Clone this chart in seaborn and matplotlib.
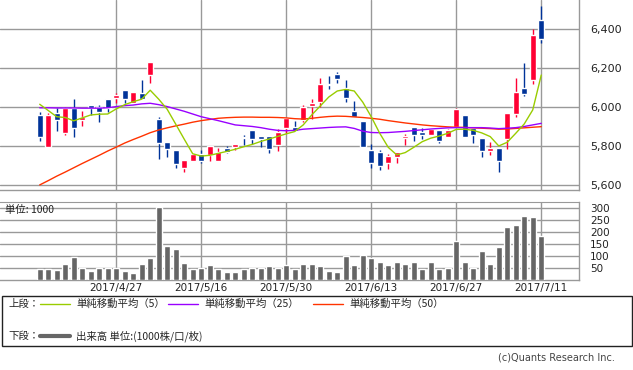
import numpy as np
import pandas as pd
import matplotlib
matplotlib.use('Agg')
import matplotlib.pyplot as plt
from matplotlib.patches import Rectangle
from matplotlib.lines import Line2D
import seaborn as sns

# ---- data (60 trading days, 2017/4/14 - 2017/7/11)
open_ = [5957, 5796, 5968, 5868, 5996, 5933, 6009, 5998, 6041, 6048,
         6087, 6019, 6070, 6164, 5938, 5819, 5779, 5689, 5723, 5759,
         5754, 5725, 5788, 5796, 5845, 5882, 5851, 5851, 5805, 5894,
         5899, 5933, 6005, 6027, 6116, 6169, 6096, 5979, 5928, 5779,
         5769, 5714, 5745, 5840, 5896, 5872, 5856, 5882, 5848, 5899,
         5959, 5891, 5840, 5776, 5790, 5837, 5966, 6096, 6137, 6446]
high = [5976, 5968, 5993, 6002, 6043, 5979, 6009, 6010, 6041, 6072,
        6087, 6077, 6138, 6231, 5950, 5819, 5779, 5728, 5759, 5779,
        5800, 5791, 5802, 5810, 5856, 5882, 5851, 5851, 5886, 5942,
        5928, 6009, 6041, 6150, 6159, 6181, 6138, 6032, 5928, 5810,
        5779, 5759, 5768, 5860, 5896, 5891, 5886, 5882, 5886, 5996,
        5959, 5896, 5840, 5819, 5790, 5968, 6150, 6224, 6398, 6518]
low = [5827, 5796, 5877, 5856, 5848, 5903, 5959, 5925, 5976, 6019,
       6019, 6019, 6039, 6125, 5735, 5745, 5689, 5667, 5723, 5711,
       5725, 5725, 5766, 5779, 5805, 5810, 5796, 5763, 5776, 5868,
       5878, 5925, 5940, 5998, 6091, 6125, 6027, 5950, 5796, 5686,
       5677, 5680, 5711, 5805, 5826, 5834, 5856, 5817, 5848, 5899,
       5848, 5817, 5745, 5754, 5668, 5786, 5947, 6058, 6116, 6327]
close = [5848, 5959, 5933, 5996, 5894, 5950, 5993, 5976, 5993, 6062,
         6039, 6077, 6039, 6231, 5817, 5785, 5708, 5728, 5759, 5723,
         5800, 5769, 5771, 5810, 5840, 5836, 5836, 5786, 5872, 5942,
         5878, 6000, 6022, 6118, 6111, 6145, 6048, 5950, 5796, 5714,
         5699, 5750, 5768, 5851, 5856, 5856, 5886, 5827, 5882, 5991,
         5848, 5856, 5776, 5791, 5723, 5968, 6077, 6068, 6369, 6347]

ma5 = [6014, 5982, 5950, 5946, 5929, 5944, 5959, 5963, 5964, 5990,
       6012, 6027, 6040, 6086, 6040, 5988, 5912, 5835, 5760, 5748,
       5752, 5762, 5772, 5783, 5796, 5808, 5823, 5836, 5849, 5862,
       5874, 5908, 5959, 6005, 6051, 6082, 6090, 6082, 6025, 5950,
       5865, 5793, 5754, 5766, 5793, 5822, 5840, 5851, 5865, 5885,
       5886, 5880, 5867, 5848, 5800, 5819, 5865, 5913, 5985, 6164]
ma25 = [5996, 5996, 5995, 5995, 5995, 5994, 5994, 5994, 5996, 6002,
        6007, 6010, 6016, 6019, 6012, 6002, 5990, 5978, 5964, 5950,
        5940, 5930, 5919, 5908, 5904, 5900, 5894, 5886, 5880, 5878,
        5880, 5886, 5889, 5892, 5895, 5897, 5898, 5890, 5876, 5869,
        5868, 5869, 5872, 5875, 5879, 5883, 5887, 5890, 5893, 5894,
        5894, 5894, 5894, 5892, 5889, 5891, 5894, 5900, 5908, 5916]
ma50 = [5600, 5622, 5645, 5666, 5688, 5710, 5731, 5752, 5774, 5794,
        5815, 5833, 5850, 5868, 5882, 5893, 5903, 5912, 5922, 5930,
        5936, 5942, 5945, 5947, 5948, 5948, 5947, 5947, 5946, 5944,
        5940, 5938, 5942, 5947, 5951, 5953, 5952, 5949, 5946, 5942,
        5937, 5930, 5924, 5918, 5913, 5908, 5904, 5901, 5898, 5896,
        5895, 5893, 5891, 5889, 5886, 5887, 5890, 5893, 5896, 5899]

volume = [44, 44, 40, 65, 98, 51, 36, 50, 50, 52,
          36, 28, 69, 94, 305, 144, 131, 73, 44, 51,
          61, 44, 32, 32, 48, 52, 52, 57, 52, 61,
          44, 69, 69, 57, 36, 32, 102, 61, 106, 90,
          77, 61, 77, 65, 77, 48, 77, 48, 52, 164,
          77, 52, 123, 65, 139, 222, 231, 268, 264, 185]

date_ticks = [9, 19, 29, 39, 49, 59]
date_labels = ['2017/4/27', '2017/5/16', '2017/5/30',
               '2017/6/13', '2017/6/27', '2017/7/11']
price_ticks = [5600, 5800, 6000, 6200, 6400]
vol_ticks = [50, 100, 150, 200, 250, 300]

UP = '#ff0033'
DOWN = '#003399'
GRID = '#999999'
JP = ['Noto Sans CJK JP', 'DejaVu Sans']

df = pd.DataFrame({'i': np.arange(len(close)), 'open': open_, 'high': high,
                   'low': low, 'close': close, 'ma5': ma5, 'ma25': ma25,
                   'ma50': ma50, 'volume': volume})

sns.set_style('white')
plt.rcParams['font.family'] = ['DejaVu Sans', 'Noto Sans CJK JP']

W, H = 633, 370
fig = plt.figure(figsize=(W / 100, H / 100), dpi=100)
ax_p = fig.add_axes([0, 1 - 190 / H, 579 / W, 190 / H])
ax_v = fig.add_axes([0, 1 - 280 / H, 579 / W, 78.3 / H])

# ---- price panel
for ax in (ax_p, ax_v):
    ax.set_axisbelow(True)
    ax.grid(True, color=GRID, linewidth=1)
    ax.set_xlim(-4.67, 63.44)
    ax.set_xticks(date_ticks)
    ax.yaxis.tick_right()
    ax.tick_params(length=0, colors='#222222')
    for s in ('left', 'top'):
        ax.spines[s].set_visible(False)
    for s in ('right', 'bottom'):
        ax.spines[s].set_color(GRID)
        ax.spines[s].set_linewidth(1)

up = df['close'] >= df['open']
cols = np.where(up, UP, DOWN)
ax_p.vlines(df['i'], df['low'], df['high'], colors=cols, linewidth=1, zorder=2)
body_lo = np.minimum(df['open'], df['close'])
body_h = np.maximum(np.abs(df['close'] - df['open']), 4)
ax_p.bar(df['i'], body_h, bottom=body_lo, width=0.7, color=cols, zorder=3)

sns.lineplot(data=df, x='i', y='ma50', color='#ff3300', linewidth=1, ax=ax_p, zorder=4)
sns.lineplot(data=df, x='i', y='ma25', color='#9900ff', linewidth=1, ax=ax_p, zorder=4)
sns.lineplot(data=df, x='i', y='ma5', color='#99cc00', linewidth=1, ax=ax_p, zorder=4)

ax_p.set_ylim(5574, 6549)
ax_p.set_yticks(price_ticks)
ax_p.set_yticklabels([f'{v:,}' for v in price_ticks], fontsize=8)
ax_p.tick_params(axis='y', pad=8)
ax_p.set_xticklabels([])
ax_p.set_xlabel('')
ax_p.set_ylabel('')

# ---- volume panel
sns.barplot(data=df, x='i', y='volume', color='#666666', width=0.67,
            native_scale=True, errorbar=None, saturation=1, ax=ax_v, zorder=3)
ax_v.set_xlim(-4.67, 63.44)
ax_v.set_ylim(0, 327.6)
ax_v.set_yticks(vol_ticks)
ax_v.set_yticklabels([str(v) for v in vol_ticks], fontsize=7.5)
ax_v.tick_params(axis='y', pad=8)
ax_v.set_xticks(date_ticks)
ax_v.set_xticklabels(date_labels, fontsize=7.5)
ax_v.tick_params(axis='x', pad=2)
ax_v.spines['top'].set_visible(True)
ax_v.spines['top'].set_color(GRID)
ax_v.grid(True, color=GRID, linewidth=1)
ax_v.set_xlabel('')
ax_v.set_ylabel('')
ax_v.text(0.009, 0.9, '単位: 1000', transform=ax_v.transAxes, fontsize=7.5,
          family=JP, va='center', ha='left', color='#222222')

# ---- legend box
fig.patches.append(Rectangle((2 / W, 1 - 346 / H), 630 / W, 50 / H,
                             transform=fig.transFigure, fill=False,
                             edgecolor='#222222', linewidth=1))


def fx(px):
    return px / W


def fy(py):
    return 1 - py / H


fig.text(fx(8), fy(304), '上段：', fontsize=7.5, family=JP, va='center')
for x0, c, lab in [(40, '#99cc00', '単純移動平均（5）'),
                   (168, '#9900ff', '単純移動平均（25）'),
                   (313, '#ff3300', '単純移動平均（50）')]:
    fig.add_artist(Line2D([fx(x0), fx(x0 + 30)], [fy(304), fy(304)],
                          color=c, linewidth=1))
    fig.text(fx(x0 + 36), fy(304), lab, fontsize=7.5, family=JP, va='center')

fig.text(fx(8), fy(336), '下段：', fontsize=7.5, family=JP, va='center')
fig.add_artist(Line2D([fx(40), fx(70)], [fy(336), fy(336)],
                      color='#666666', linewidth=3))
fig.text(fx(76), fy(336), '出来高 単位:(1000株/口/枚)', fontsize=7.5,
         family=JP, va='center')

fig.text(fx(615), fy(357), '(c)Quants Research Inc.', fontsize=7,
         ha='right', va='center', color='#444444')

fig.savefig('out.png', dpi=100)
